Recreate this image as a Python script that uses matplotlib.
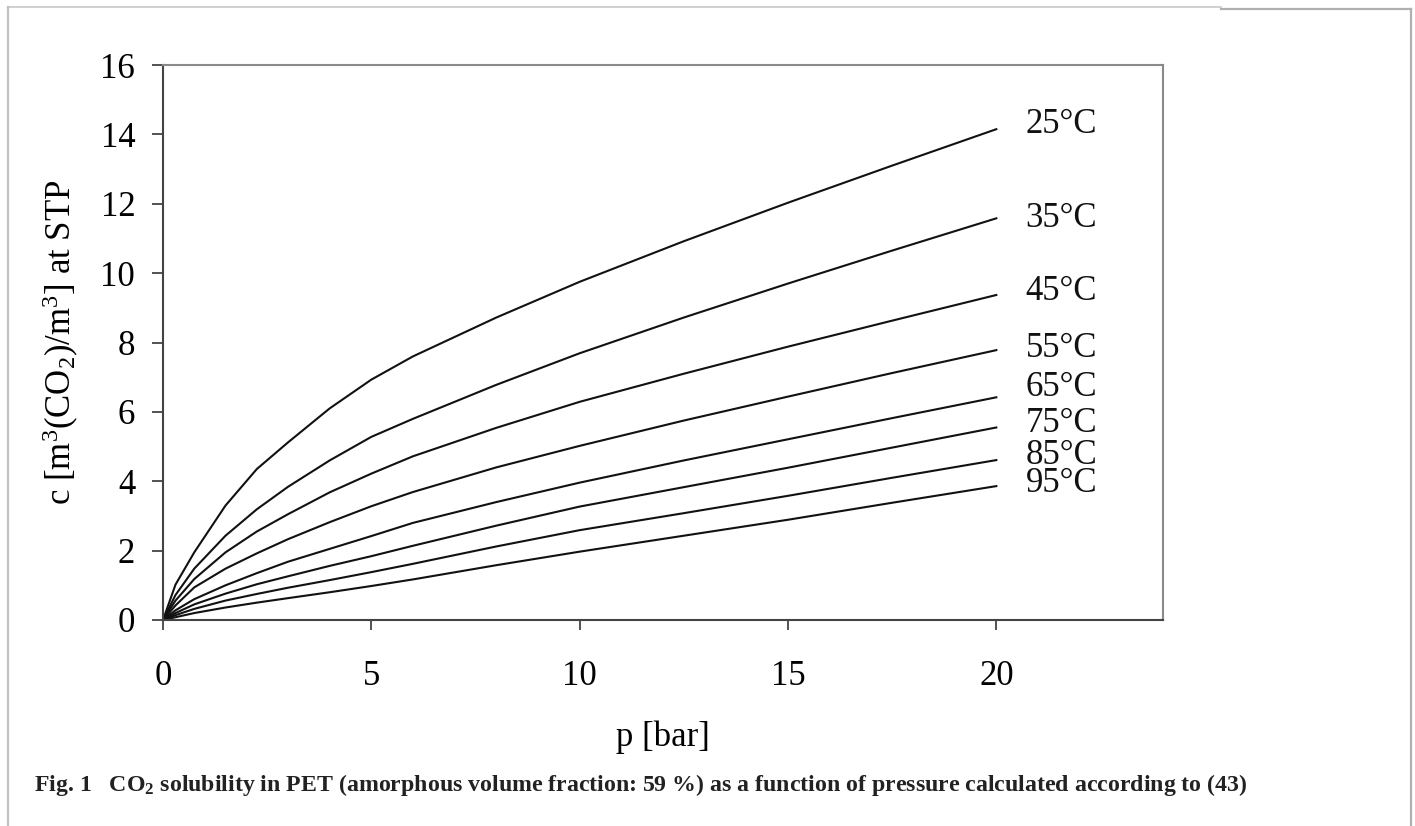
import matplotlib
matplotlib.use('Agg')
import matplotlib.pyplot as plt
from matplotlib.lines import Line2D

# Schriften: Times-aehnlich
plt.rcParams['font.family'] = ['Liberation Serif', 'DejaVu Serif']
plt.rcParams['mathtext.fontset'] = 'custom'
plt.rcParams['mathtext.rm'] = 'Liberation Serif'
plt.rcParams['mathtext.bf'] = 'Liberation Serif:bold'
plt.rcParams['mathtext.default'] = 'regular'

# Daten
p = [0, 0.3, 0.75, 1.5, 2.25, 3, 4, 5, 6, 8, 10, 12.5, 15, 17.5, 20]
c25 = [0, 1.02, 1.95, 3.30, 4.35, 5.12, 6.10, 6.93, 7.60, 8.72, 9.75, 10.92, 12.03, 13.10, 14.15]
c35 = [0, 0.72, 1.48, 2.43, 3.19, 3.84, 4.60, 5.28, 5.80, 6.78, 7.69, 8.72, 9.70, 10.65, 11.58]
c45 = [0, 0.56, 1.18, 1.95, 2.55, 3.05, 3.68, 4.22, 4.72, 5.54, 6.29, 7.10, 7.88, 8.63, 9.37]
c55 = [0, 0.42, 0.94, 1.48, 1.92, 2.33, 2.82, 3.28, 3.69, 4.40, 5.02, 5.75, 6.44, 7.12, 7.78]
c65 = [0, 0.28, 0.60, 1.00, 1.35, 1.68, 2.05, 2.42, 2.80, 3.40, 3.96, 4.60, 5.21, 5.82, 6.42]
c75 = [0, 0.20, 0.45, 0.76, 1.03, 1.26, 1.56, 1.84, 2.14, 2.72, 3.27, 3.83, 4.39, 4.97, 5.55]
c85 = [0, 0.14, 0.32, 0.56, 0.75, 0.93, 1.15, 1.38, 1.62, 2.12, 2.59, 3.08, 3.58, 4.10, 4.61]
c95 = [0, 0.08, 0.20, 0.36, 0.50, 0.63, 0.80, 0.98, 1.17, 1.58, 1.97, 2.43, 2.89, 3.38, 3.86]
curves = [c25, c35, c45, c55, c65, c75, c85, c95]
temps = ['25°C', '35°C', '45°C', '55°C', '65°C', '75°C', '85°C', '95°C']
label_y = [14.28, 11.57, 9.46, 7.83, 6.69, 5.66, 4.74, 3.93]

fig = plt.figure(figsize=(14.15, 8.26), dpi=100)
ax = fig.add_axes([0.1152, 0.2494, 0.7067, 0.6719])

for c in curves:
    ax.plot(p, c, color='#111111', lw=1.5, solid_joinstyle='round')

# Temperaturbeschriftung (85/95 ueberlappen wie im Original)
for t, y in zip(temps, label_y):
    ax.text(20.7, y, t, fontsize=25, ha='left', va='center', color='#111111')

ax.set_xlim(0, 24)
ax.set_ylim(0, 16)
ax.set_xticks([0, 5, 10, 15, 20])
ax.set_yticks(range(0, 17, 2))
ax.tick_params(axis='x', direction='out', length=7.5, width=1.3, pad=21,
               labelsize=25, color='#444444')
ax.tick_params(axis='y', direction='out', length=8, width=1.3, pad=12,
               labelsize=25, color='#444444')
ax.spines['left'].set_color('#444444')
ax.spines['bottom'].set_color('#444444')
ax.spines['top'].set_color('#8a8a8a')
ax.spines['right'].set_color('#8a8a8a')
for s in ax.spines.values():
    s.set_linewidth(1.5)

ax.set_xlabel('p [bar]', fontsize=25, labelpad=20)
ax.set_ylabel('c [m$^3$(CO$_2$)/m$^3$] at STP', fontsize=25, labelpad=14)

# Bildunterschrift
fig.text(34 / 1415, 1 - 791 / 826,
         'Fig. 1   CO$_2$ solubility in PET (amorphous volume fraction: 59 %) as a '
         'function of pressure calculated according to (43)',
         fontsize=17.2, fontweight='bold', ha='left', va='baseline', color='#222222')

# grauer Rahmen
W, H = 1415, 826
fig.add_artist(Line2D([8 / W, 1221 / W], [1 - 7 / H, 1 - 7 / H], color='#c8c8c8', lw=1.2))
fig.add_artist(Line2D([1221 / W, 1411 / W], [1 - 9 / H, 1 - 9 / H], color='#b0b0b0', lw=1.6))
fig.add_artist(Line2D([8 / W, 8 / W], [1 - 7 / H, 0], color='#c0c0c0', lw=1.6))
fig.add_artist(Line2D([1411 / W, 1411 / W], [1 - 9 / H, 0], color='#b0b0b0', lw=1.6))

fig.savefig('out.png', dpi=100)
